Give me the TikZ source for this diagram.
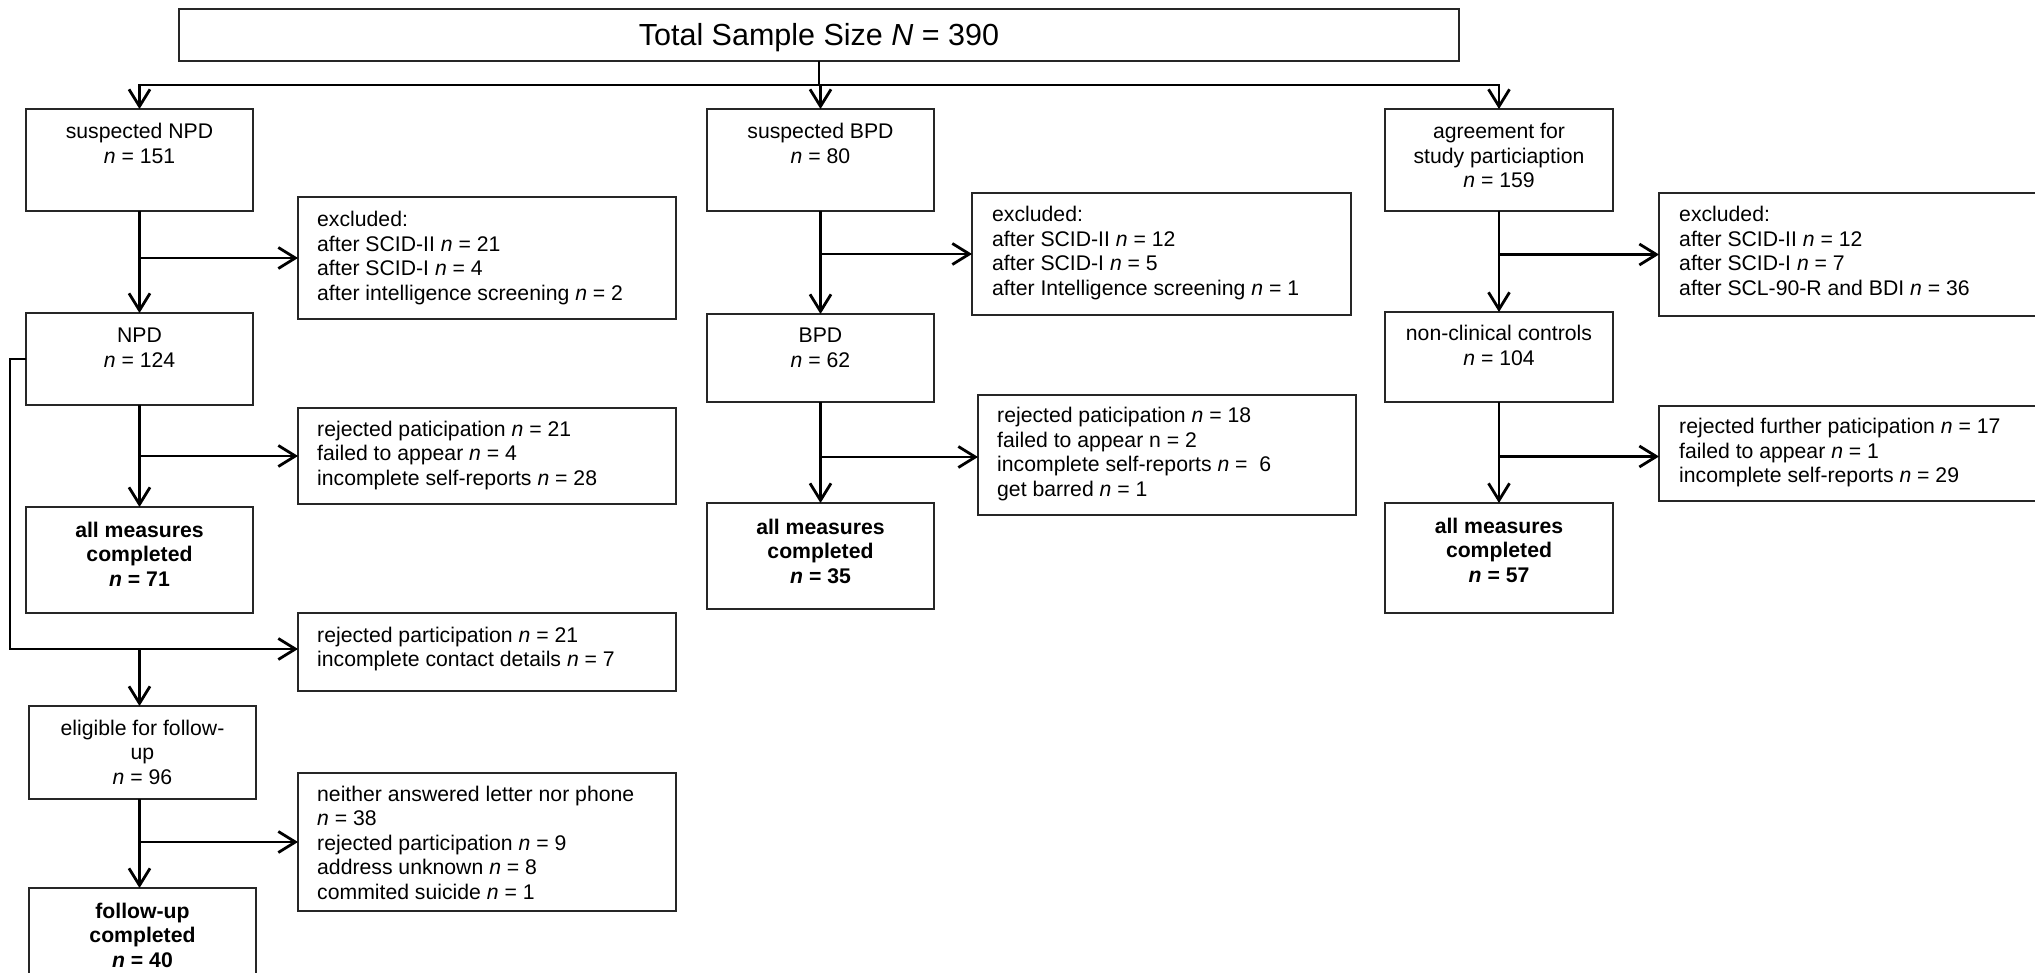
\documentclass[tikz,border=0pt]{standalone}
\usepackage{fontspec}
\setmainfont{Liberation Sans}
\usetikzlibrary{arrows.meta}
\newcommand\itn{\textit{n}}
\newcommand\ctext[1]{\parbox[t]{330pt}{\fontsize{21.2}{24.5}\selectfont\centering #1\par}}
\newcommand\ltext[1]{\parbox[t]{420pt}{\fontsize{21.2}{24.5}\selectfont\raggedright #1\par}}
\tikzset{
  frame/.style={draw=black!85, line width=1.3pt, inner sep=0pt, outer sep=0pt, anchor=north west},
  ctxt/.style={inner sep=0pt, anchor=base},
  ltxt/.style={inner sep=0pt, anchor=base west},
  arr/.style={line width=2.8pt, -{Straight Barb[length=17pt,width=21pt,line width=2.8pt]}},
  thick line/.style={line width=2.8pt},
  thin line/.style={line width=1.3pt},
}
\begin{document}
\begin{tikzpicture}[x=1pt,y=-1pt]
\clip (0,0) rectangle (2035,973);
\fill[white] (0,0) rectangle (2035,973);
% title
\node[frame, minimum width=1280pt, minimum height=52pt] (total) at (179,9) {};
\node[inner sep=0pt, anchor=base] (totalt) at (819,46) {\fontsize{30.5}{36}\selectfont Total Sample Size \textit{N} = 390};
% column 1
\node[frame, minimum width=227pt, minimum height=102pt] (snpd) at (26,109) {};
\node[frame, minimum width=227pt, minimum height=92pt] (npd) at (26,313) {};
\node[frame, minimum width=227pt, minimum height=106pt] (am1) at (26,507) {};
\node[frame, minimum width=227pt, minimum height=93pt] (elig) at (29,706) {};
\node[frame, minimum width=227pt, minimum height=120pt] (fu) at (29,888) {};
\node[frame, minimum width=378pt, minimum height=122pt] (ex1) at (298,197) {};
\node[frame, minimum width=378pt, minimum height=96pt] (rej1) at (298,408) {};
\node[frame, minimum width=378pt, minimum height=78pt] (rp1) at (298,613) {};
\node[frame, minimum width=378pt, minimum height=138pt] (nei) at (298,773) {};
% column 2
\node[frame, minimum width=227pt, minimum height=102pt] (sbpd) at (707,109) {};
\node[frame, minimum width=227pt, minimum height=88pt] (bpd) at (707,314) {};
\node[frame, minimum width=227pt, minimum height=106pt] (am2) at (707,503) {};
\node[frame, minimum width=379pt, minimum height=122pt] (ex2) at (972,193) {};
\node[frame, minimum width=378pt, minimum height=120pt] (rej2) at (978,395) {};
% column 3
\node[frame, minimum width=228pt, minimum height=102pt] (agr) at (1385,109) {};
\node[frame, minimum width=228pt, minimum height=90pt] (ncc) at (1385,312) {};
\node[frame, minimum width=228pt, minimum height=110pt] (am3) at (1385,503) {};
\node[frame, minimum width=381pt, minimum height=123pt] (ex3) at (1659,193) {};
\node[frame, minimum width=381pt, minimum height=95pt] (rej3) at (1659,406) {};
% texts
\node[ctxt, yshift=-30pt] (snpdt) at (snpd.north) {\ctext{suspected NPD\\ \itn{} = 151}};
\node[ctxt, yshift=-30pt] (npdt) at (npd.north) {\ctext{NPD\\ \itn{} = 124}};
\node[ctxt, yshift=-30pt] (am1t) at (am1.north) {\ctext{\bfseries all measures\\ completed\\ \itn{} = 71}};
\node[ctxt, yshift=-29pt] (eligt) at (elig.north) {\ctext{eligible for follow-\\ up\\ \itn{} = 96}};
\node[ctxt, yshift=-30pt] (fut) at (fu.north) {\ctext{\bfseries follow-up\\ completed\\ \itn{} = 40}};
\node[ltxt, xshift=19pt, yshift=-30pt] (ex1t) at (ex1.north west) {\ltext{excluded:\\ after SCID-II \itn{} = 21\\ after SCID-I \itn{} = 4\\ after intelligence screening \itn{} = 2}};
\node[ltxt, xshift=19pt, yshift=-28pt] (rej1t) at (rej1.north west) {\ltext{rejected paticipation \itn{} = 21\\ failed to appear \itn{} = 4\\ incomplete self-reports \itn{} = 28}};
\node[ltxt, xshift=19pt, yshift=-29pt] (rp1t) at (rp1.north west) {\ltext{rejected participation \itn{} = 21\\ incomplete contact details \itn{} = 7}};
\node[ltxt, xshift=19pt, yshift=-28pt] (neit) at (nei.north west) {\ltext{neither answered letter nor phone\\ \itn{} = 38\\ rejected participation \itn{} = 9\\ address unknown \itn{} = 8\\ commited suicide \itn{} = 1}};
\node[ctxt, yshift=-30pt] (sbpdt) at (sbpd.north) {\ctext{suspected BPD\\ \itn{} = 80}};
\node[ctxt, yshift=-29pt] (bpdt) at (bpd.north) {\ctext{BPD\\ \itn{} = 62}};
\node[ctxt, yshift=-31pt] (am2t) at (am2.north) {\ctext{\bfseries all measures\\ completed\\ \itn{} = 35}};
\node[ltxt, xshift=20pt, yshift=-29pt] (ex2t) at (ex2.north west) {\ltext{excluded:\\ after SCID-II \itn{} = 12\\ after SCID-I \itn{} = 5\\ after Intelligence screening \itn{} = 1}};
\node[ltxt, xshift=19pt, yshift=-28pt] (rej2t) at (rej2.north west) {\ltext{rejected paticipation \itn{} = 18\\ failed to appear n = 2\\ incomplete self-reports \itn{} = ~6\\ get barred \itn{} = 1}};
\node[ctxt, yshift=-30pt] (agrt) at (agr.north) {\ctext{agreement for\\ study particiaption\\ \itn{} = 159}};
\node[ctxt, yshift=-29pt] (ncct) at (ncc.north) {\ctext{non-clinical controls\\ \itn{} = 104}};
\node[ctxt, yshift=-30pt] (am3t) at (am3.north) {\ctext{\bfseries all measures\\ completed\\ \itn{} = 57}};
\node[ltxt, xshift=20pt, yshift=-29pt] (ex3t) at (ex3.north west) {\ltext{excluded:\\ after SCID-II \itn{} = 12\\ after SCID-I \itn{} = 7\\ after SCL-90-R and BDI \itn{} = 36}};
\node[ltxt, xshift=20pt, yshift=-28pt] (rej3t) at (rej3.north west) {\ltext{rejected further paticipation \itn{} = 17\\ failed to appear \itn{} = 1\\ incomplete self-reports \itn{} = 29}};
% connectors: top
\coordinate (hl) at (139.5,85);
\coordinate (hr) at (1499,85);
\coordinate (hm) at (820.5,85);
\draw[thin line] (total.south) -- (total.south |- hm);
\draw[thick line, line cap=rect] (hl) -- (hr);
\draw[arr] (hl) -- (snpd.north);
\draw[arr] (hm) -- (sbpd.north);
\draw[arr] (hr) -- (agr.north);
% column 1
\draw[arr] (snpd.south) -- (npd.north);
\draw[arr] (snpd.south |- ex1.west) -- (ex1.west);
\draw[arr] (npd.south) -- (am1.north);
\draw[arr] (npd.south |- rej1.west) -- (rej1.west);
\coordinate (j1) at (139.5,649);
\coordinate (lc1) at (10,359);
\draw[thin line] (npd.west) -- (lc1) -- (lc1 |- j1) -- (j1);
\draw[arr] (j1) -- (rp1.west |- j1);
\draw[arr] (j1) -- (j1 |- elig.north);
\draw[arr] (elig.south -| j1) -- (j1 |- fu.north);
\draw[arr] (elig.south -| j1) ++(0,43) coordinate (j2) -- (nei.west |- j2);
% column 2
\draw[arr] (sbpd.south) -- (bpd.north);
\draw[arr] (sbpd.south |- ex2.west) -- (ex2.west);
\draw[arr] (bpd.south) -- (am2.north);
\draw[arr] (bpd.south |- rej2.west) ++(0,2) coordinate (j3) -- (rej2.west |- j3);
% column 3
\draw[arr] (agr.south) -- (ncc.north);
\draw[arr] (agr.south |- ex3.west) -- (ex3.west);
\draw[arr] (ncc.south) -- (am3.north);
\draw[arr] (ncc.south |- rej3.west) ++(0,3) coordinate (j4) -- (rej3.west |- j4);
\end{tikzpicture}
\end{document}
